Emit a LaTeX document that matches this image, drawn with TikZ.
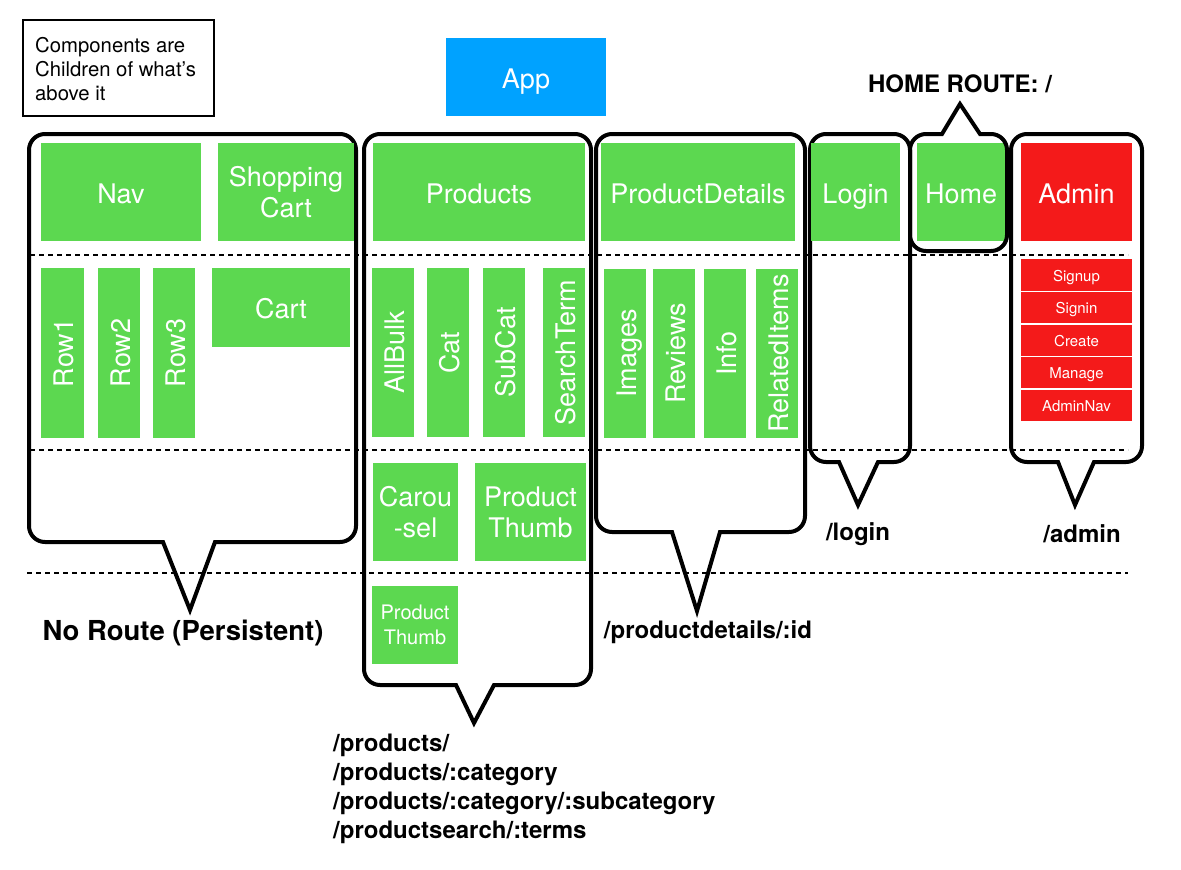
\documentclass[tikz,border=0pt]{standalone}
\usepackage{fontspec}
\setmainfont{TeX Gyre Heros}
\definecolor{grn}{RGB}{92,216,80}
\definecolor{rd}{RGB}{244,26,26}
\definecolor{blu}{RGB}{0,162,255}
\newcommand\rr{16}
\newcommand\gb[7][one]{\node[gbox,#1,minimum width={(#5-#3)*1pt},minimum height={(#6-#4)*1pt}] (#2) at ({(#3+#5)/2},{(#4+#6)/2}) {#7};}
\newcommand\gbv[6]{\node[gbox,one,rotate=90,minimum height={(#4-#2)*1pt},minimum width={(#5-#3)*1pt}] (#1) at ({(#2+#4)/2},{(#3+#5)/2}) {#6};}
\newcommand\rb[7][ones]{\node[rbox,#1,minimum width={(#5-#3)*1pt},minimum height={(#6-#4)*1pt}] (#2) at ({(#3+#5)/2},{(#4+#6)/2}) {#7};}
% L T R B pl tipx tipy pr
\newcommand\bubdown[8]{\draw[bubble] (#5,#4) -- ({#1+\rr},#4) arc[start angle=90,end angle=180,radius=\rr] -- (#1,{#2+\rr}) arc[start angle=180,end angle=270,radius=\rr] -- ({#3-\rr},#2) arc[start angle=270,end angle=360,radius=\rr] -- (#3,{#4-\rr}) arc[start angle=0,end angle=90,radius=\rr] -- (#8,#4) -- (#6,#7) -- cycle;}
\newcommand\bubup[8]{\draw[bubble] (#8,#2) -- ({#3-\rr},#2) arc[start angle=270,end angle=360,radius=\rr] -- (#3,{#4-\rr}) arc[start angle=0,end angle=90,radius=\rr] -- ({#1+\rr},#4) arc[start angle=90,end angle=180,radius=\rr] -- (#1,{#2+\rr}) arc[start angle=180,end angle=270,radius=\rr] -- (#5,#2) -- (#6,#7) -- cycle;}
\begin{document}
\begin{tikzpicture}[x=1pt,y=-1pt,
  gbox/.style={fill=grn,text=white,inner sep=0pt,align=center,font=\fontsize{27}{31}\selectfont},
  rbox/.style={fill=rd,text=white,inner sep=0pt,align=center,font=\fontsize{15}{18}\selectfont},
  one/.style={text height=22.6pt,text depth=0pt},
  ones/.style={text height=12.9pt,text depth=0pt},
  bubble/.style={line width=4pt,line join=miter,miter limit=10},
  dline/.style={line width=1.8pt,dash pattern=on 5pt off 4pt},
  route/.style={font=\bfseries\fontsize{24}{29}\selectfont}]
\useasboundingbox (0,0) rectangle (1181,870);
% dashed separators
\coordinate (d1a) at (30,255); \coordinate (d1b) at (1128,255);
\coordinate (d2a) at (30,450); \coordinate (d2b) at (1128,450);
\coordinate (d3a) at (27,573); \coordinate (d3b) at (1128,573);
\draw[dline] (d1a) -- (d1b);
\draw[dline] (d2a) -- (d2b);
\draw[dline] (d3a) -- (d3b);
% note
\draw[line width=2pt] (23,20) rectangle (214,116);
\node[anchor=west,align=left,inner sep=0pt,font=\fontsize{20.3}{24}\selectfont] (note) at (35,69) {Components are\\Children of what’s\\above it};
% App
\node[fill=blu,text=white,inner sep=0pt,one,minimum width=160pt,minimum height=78pt,font=\fontsize{27}{32}\selectfont] (app) at (526,77) {App};
% bubbles
\bubdown{29}{134}{356}{542}{163}{190}{610}{215}
\bubdown{364}{134}{591}{685}{456}{474}{723}{494}
\bubdown{596}{134}{805}{532}{672}{697}{611}{720}
\bubdown{810}{134}{910}{462}{839}{858}{505}{878}
\bubdown{1011}{134}{1142}{462}{1058}{1075}{505}{1094}
% top row
\gb{nav}{41}{143}{201}{241}{Nav}
\gb[]{shop}{218}{143}{354}{241}{Shopping\\Cart}
\gb{products}{373}{143}{585}{241}{Products}
\gb{pdet}{601}{143}{795}{241}{ProductDetails}
\gb{login}{811}{143}{900}{241}{Login}
\gb{home}{917}{143}{1005}{241}{Home}
\rb[one]{admin}{1021}{143}{1132}{241}{\fontsize{27}{32}\selectfont Admin}
\bubup{910}{134}{1007}{251}{942}{960}{104}{980}
% second row
\gbv{row1}{41}{268}{84}{438}{Row1}
\gbv{row2}{98}{268}{140}{438}{Row2}
\gbv{row3}{153}{268}{195}{438}{Row3}
\gb{cart}{212}{268}{350}{347}{Cart}
\gbv{allbulk}{372}{268}{414}{437}{AllBulk}
\gbv{cat}{427}{268}{469}{437}{Cat}
\gbv{subcat}{483}{268}{525}{437}{SubCat}
\gbv{search}{543}{268}{585}{437}{SearchTerm}
\gbv{images}{604}{269}{646}{438}{Images}
\gbv{reviews}{653}{269}{695}{438}{Reviews}
\gbv{info}{704}{269}{746}{438}{Info}
\gbv{related}{756}{269}{798}{438}{RelatedItems}
\rb{signup}{1021}{259}{1132}{291}{Signup}
\rb{signin}{1021}{292}{1132}{323}{Signin}
\rb{create}{1021}{325}{1132}{356}{Create}
\rb{manage}{1021}{357}{1132}{388}{Manage}
\rb{adminnav}{1021}{390}{1132}{421}{AdminNav}
% third row
\gb[]{carousel}{373}{463}{458}{561}{Carou\\-sel}
\gb[]{pthumb}{475}{463}{586}{561}{Product\\Thumb}
\node[gbox,font=\fontsize{20}{25}\selectfont,minimum width=86pt,minimum height=78pt] (pthumb2) at (415,625) {Product\\Thumb};
% route labels
\node[route] (homeroute) at (960,84) {HOME ROUTE: /};
\node[font=\bfseries\fontsize{27.5}{30}\selectfont] (noroute) at (183,633) {No Route (Persistent)};
\node[route,anchor=west,align=left,inner sep=0pt] (prodroutes) at (333,789) {/products/\\/products/:category\\/products/:category/:subcategory\\/productsearch/:terms};
\node[route] (pdroute) at (708,632) {/productdetails/:id};
\node[route] (loginroute) at (858,534) {/login};
\node[route] (adminroute) at (1082,534) {/admin};
\end{tikzpicture}
\end{document}
